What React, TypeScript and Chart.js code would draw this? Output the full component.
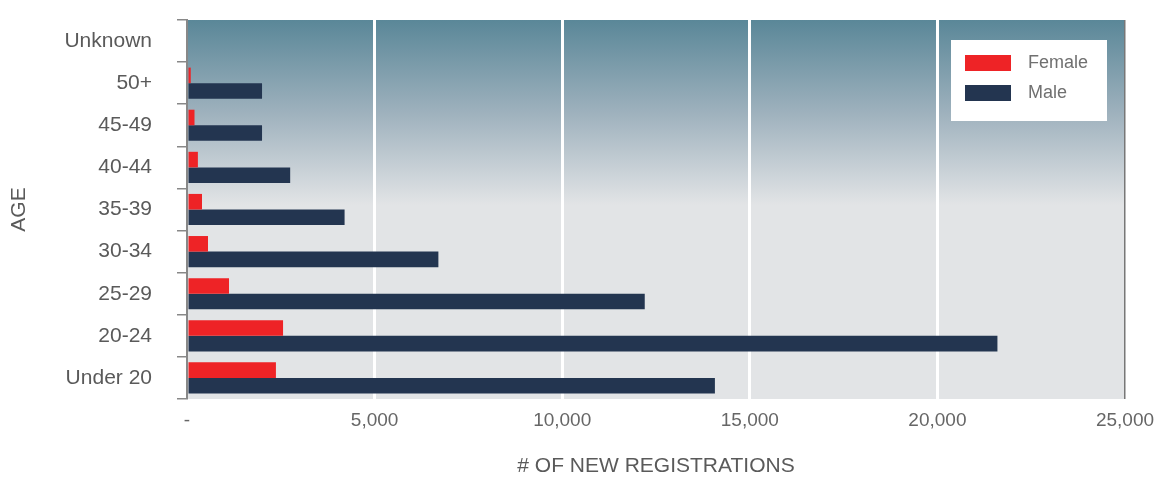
import React, { useEffect, useRef } from "react";
import { Chart, registerables } from "chart.js";

Chart.register(...registerables);

const categories = ["Unknown", "50+", "45-49", "40-44", "35-39", "30-34", "25-29", "20-24", "Under 20"];
const femaleValues = [0, 100, 200, 290, 400, 560, 1120, 2560, 2370];
const maleValues = [0, 2000, 2000, 2750, 4200, 6700, 12200, 21600, 14070];
const xTicks = [0, 5000, 10000, 15000, 20000, 25000];
const seriesNames = ["Female", "Male"];
const seriesColors = ["#ee2326", "#233550"];

const FONT = "'Liberation Sans', Arial, sans-serif";

const bgPlugin = {
  id: "bgPlugin",
  beforeDraw(chart: any) {
    const { ctx, chartArea } = chart;
    const { left, right, top, bottom } = chartArea;
    ctx.save();
    const g = ctx.createLinearGradient(0, top, 0, top + 185);
    g.addColorStop(0, "#5a8798");
    g.addColorStop(0.5, "#9eb1bd");
    g.addColorStop(1, "#e2e4e6");
    ctx.fillStyle = g;
    ctx.fillRect(left, top, right - left, bottom - top);
    ctx.restore();
  },
};

const legendPlugin = {
  id: "boxLegend",
  afterDatasetsDraw(chart: any) {
    const { ctx, chartArea } = chart;
    const bx = chartArea.right - 174;
    const by = chartArea.top + 20;
    const bw = 156;
    const bh = 81;
    ctx.save();
    ctx.fillStyle = "#ffffff";
    ctx.fillRect(bx, by, bw, bh);
    chart.data.datasets.forEach((ds: any, i: number) => {
      const y = by + 15 + i * 30;
      ctx.fillStyle = ds.backgroundColor;
      ctx.fillRect(bx + 14, y, 46, 16);
      ctx.fillStyle = "#707070";
      ctx.font = `18px ${FONT}`;
      ctx.textBaseline = "middle";
      ctx.textAlign = "left";
      ctx.fillText(ds.label, bx + 77, y + 8);
    });
    ctx.restore();
  },
};

export default function App() {
  const ref = useRef<HTMLCanvasElement | null>(null);
  useEffect(() => {
    document.body.style.margin = "0";
    const chart = new Chart(ref.current as HTMLCanvasElement, {
      type: "bar",
      data: {
        labels: categories,
        datasets: [
          { label: seriesNames[0], data: femaleValues, backgroundColor: seriesColors[0] },
          { label: seriesNames[1], data: maleValues, backgroundColor: seriesColors[1] },
        ],
      },
      plugins: [bgPlugin, legendPlugin],
      options: {
        indexAxis: "y",
        animation: false,
        responsive: false,
        maintainAspectRatio: false,
        layout: { padding: { top: 20, right: 35, left: 0, bottom: 0 } },
        datasets: { bar: { categoryPercentage: 0.74, barPercentage: 1 } },
        plugins: { legend: { display: false }, tooltip: { enabled: false } },
        scales: {
          x: {
            min: 0,
            max: 25000,
            afterBuildTicks(scale: any) {
              scale.ticks = xTicks.map((v) => ({ value: v }));
            },
            afterFit(scale: any) {
              scale.height = 80;
              scale.paddingLeft = 0;
              scale.paddingRight = 0;
              scale.paddingTop = 0;
              scale.paddingBottom = 0;
            },
            grid: {
              drawTicks: false,
              color: (c: any) =>
                c.tick && c.tick.value === 25000 ? "#777777" : c.tick && c.tick.value === 0 ? "rgba(0,0,0,0)" : "#ffffff",
              lineWidth: (c: any) => (c.tick && c.tick.value === 25000 ? 1.5 : 3),
            },
            border: { display: false },
            ticks: {
              padding: 10,
              color: "#666666",
              font: { family: FONT, size: 19 },
              callback: (v: any) => (Number(v) === 0 ? "-" : Number(v).toLocaleString("en-US")),
            },
            title: {
              display: true,
              text: "# OF NEW REGISTRATIONS",
              color: "#5a5a5a",
              font: { family: FONT, size: 21 },
              padding: { top: 0, bottom: 0 },
            },
          },
          y: {
            afterFit(scale: any) {
              scale.width = 187;
              scale.paddingLeft = 0;
              scale.paddingRight = 0;
              scale.paddingTop = 0;
              scale.paddingBottom = 0;
            },
            grid: {
              offset: true,
              drawOnChartArea: false,
              drawTicks: true,
              tickLength: 10,
              color: "#888888",
              lineWidth: 1.5,
            },
            border: { display: true, color: "#888888", width: 2 },
            ticks: {
              padding: 25,
              color: "#5a5a5a",
              font: { family: FONT, size: 21 },
            },
            title: {
              display: true,
              text: "AGE",
              color: "#5a5a5a",
              font: { family: FONT, size: 21 },
              padding: { top: 7, bottom: 0 },
            },
          },
        },
      },
    } as any);
    return () => chart.destroy();
  }, []);
  return (
    <div style={{ position: "fixed", left: 0, top: 0, width: 1160, height: 479 }}>
      <canvas ref={ref} width={1160} height={479} style={{ width: 1160, height: 479 }} />
    </div>
  );
}
